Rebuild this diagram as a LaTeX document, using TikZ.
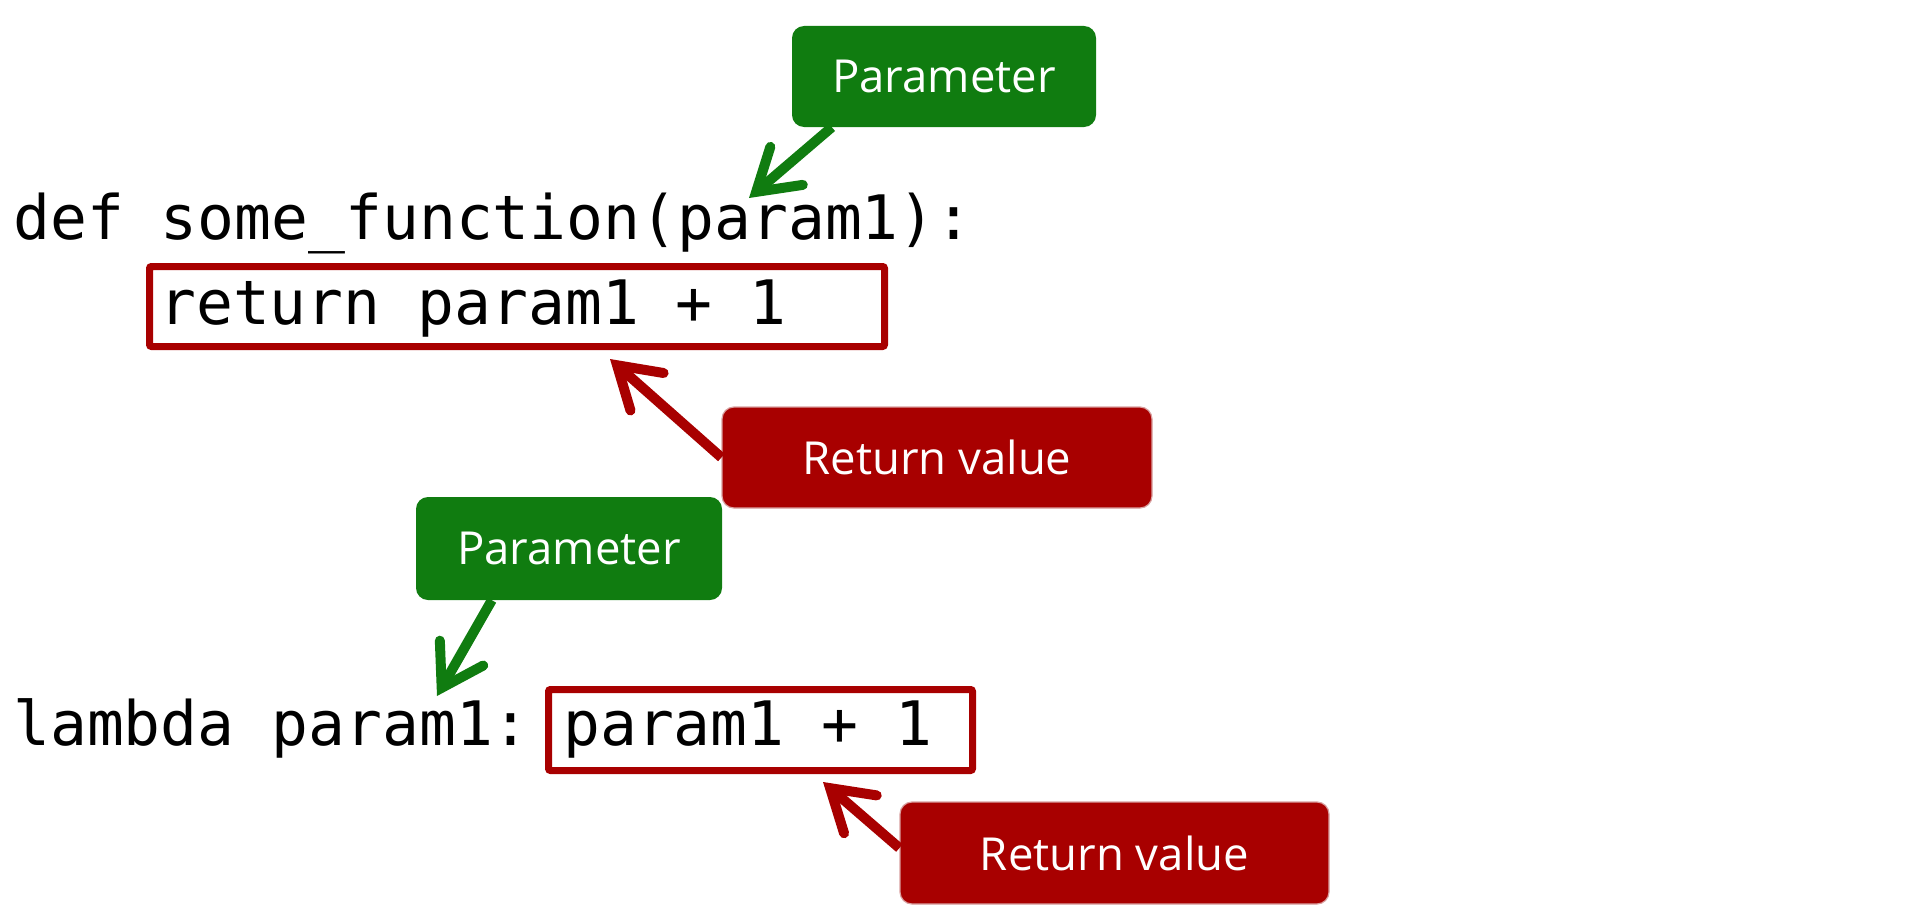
\documentclass[tikz,border=0pt]{standalone}
\usepackage{fontspec}
\setmainfont{Open Sans}
\setmonofont{DejaVu Sans Mono}
\usetikzlibrary{arrows.meta,calc}
\definecolor{pgreen}{HTML}{107C10}
\definecolor{pred}{HTML}{A80000}
\definecolor{predb}{HTML}{D9A0A0}
\begin{document}
\begin{tikzpicture}[x=1pt,y=-1pt,
  code/.style={inner sep=0pt,anchor=base west,font=\ttfamily\fontsize{61.3}{70}\selectfont},
  callg/.style={fill=pgreen,rounded corners=12pt,text=white,font=\fontsize{45.5}{52}\selectfont,inner sep=0pt},
  callr/.style={fill=pred,draw=predb,line width=1.2pt,rounded corners=12pt,text=white,font=\fontsize{45.5}{52}\selectfont,inner sep=0pt},
  hbox/.style={draw=pred,line width=7pt,rounded corners=2pt,inner sep=0pt},
  tipb/.style={-{Straight Barb[length=40pt,width=50pt,line cap=round,line join=miter]}},
  arrg/.style={draw=pgreen,line width=10pt,tipb},
  arrr/.style={draw=pred,line width=10pt,tipb}]
\useasboundingbox (0,0) rectangle (1920,907);
% code
\node[code] (def) at (13,239) {def some\_function(param1):};
\node[code] (ret) at (159,324) {return param1 + 1};
\node[code] (lam) at (13,745) {lambda param1:};
\node[code] (lbody) at (563,745) {param1 + 1};
% highlight boxes
\node[hbox,minimum width=735pt,minimum height=80pt] (rb1) at (517,306.5) {};
\node[hbox,minimum width=424pt,minimum height=81pt] (rb2) at (760.5,730) {};
% callouts
\node[callg,minimum width=304pt,minimum height=101pt] (p1) at (944,76.5) {Parameter};
\node[callr,minimum width=430pt,minimum height=101pt] (rv1) at (937,457.5) {Return value};
\node[callg,minimum width=306pt,minimum height=103pt] (p2) at (569,548.5) {Parameter};
\node[callr,minimum width=429pt,minimum height=102pt] (rv2) at (1114.5,853) {Return value};
% arrow tips
\coordinate (t1) at (749,198);
\coordinate (t2) at (610,359);
\coordinate (t3) at (437,696);
\coordinate (t4) at (823,782);
\draw[arrg] ($(p1.south west)+(40,0)$) -- (t1);
\draw[arrr] (rv1.west) -- (t2);
\draw[arrg] ($(p2.south west)+(76,0)$) -- (t3);
\draw[arrr] ($(rv2.west)+(0,-5)$) -- (t4);
\end{tikzpicture}
\end{document}
